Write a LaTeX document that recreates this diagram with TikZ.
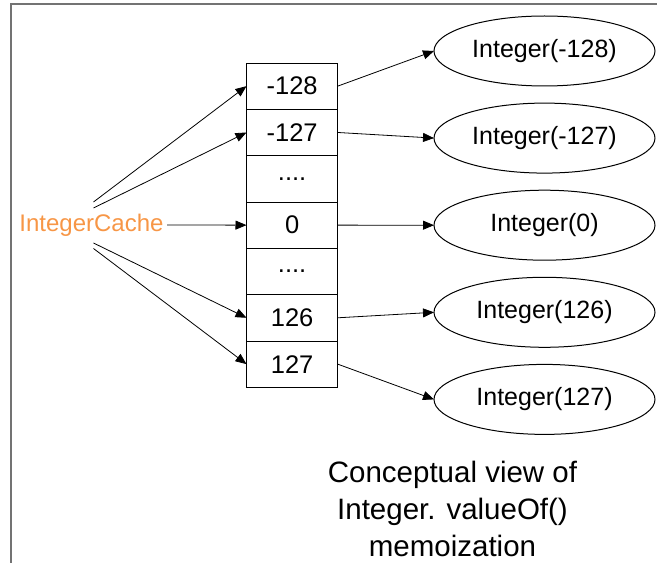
\documentclass[tikz,border=0pt]{standalone}
\usepackage{fontspec}
\setmainfont{Liberation Sans}
\usetikzlibrary{arrows.meta, shapes.geometric, calc}
\definecolor{cacheorange}{RGB}{247,150,70}
\tikzset{
    my-cell/.style={
        draw, rectangle, minimum width=91.2pt, minimum height=46.33pt, inner sep=0pt, outer sep=0pt, line width=0.8pt, font=\fontsize{25.5}{30}\selectfont
    },
    my-object/.style={
        draw, ellipse, minimum width=221pt, minimum height=70pt, inner sep=0pt, outer sep=0pt, line width=1pt, font=\fontsize{25}{30}\selectfont
    },
    my-arrow/.style={
        -{Triangle[length=11pt, width=9pt]}, line width=0.8pt
    },
}

\begin{document}
\begin{tikzpicture}[x=1pt, y=1pt]

        % PAGE AND FRAME
        \useasboundingbox (0, 0) rectangle (657, 563);
        \draw[black!55, line width=1.5pt] (11, 0) -- (11, 559) -- (657, 559);

        % CACHE
        \node[text=cacheorange, font=\fontsize{24}{28}\selectfont] (IC) at (91.5, 338) {IntegerCache};
        \coordinate[] (ICUP1)   at ($(IC) + (2, 23)$)    {};
        \coordinate[] (ICUP2)   at ($(IC) + (2, 17)$)    {};
        \coordinate[] (ICDOWN1) at ($(IC) + (2, -18)$)   {};
        \coordinate[] (ICDOWN2) at ($(IC) + (2, -23.5)$) {};

        % ARRAY CELLS
        \node[my-cell] (CM128)  at ($(IC) + (200.6, 138.85)$) {-128};
        \node[my-cell] (CM127)  at ($(CM128) + (0, -46.33)$)  {-127};
        \node[my-cell] (CDOTS1) at ($(CM127) + (0, -46.33)$)  {....};
        \node[my-cell] (C0)     at ($(CDOTS1) + (0, -46.33)$) {0};
        \node[my-cell] (CDOTS2) at ($(C0) + (0, -46.33)$)     {....};
        \node[my-cell] (C126)   at ($(CDOTS2) + (0, -46.33)$) {126};
        \node[my-cell] (C127)   at ($(C126) + (0, -46.33)$)   {127};

        % INTEGER OBJECTS
        \node[my-object] (OM128) at ($(CM128) + (252.4, 35.15)$) {Integer(-128)};
        \node[my-object] (OM127) at ($(OM128) + (0, -87.1)$)     {Integer(-127)};
        \node[my-object] (O0)    at ($(OM127) + (0, -87.1)$)     {Integer(0)};
        \node[my-object] (O126)  at ($(O0) + (0, -87.1)$)        {Integer(126)};
        \node[my-object] (O127)  at ($(O126) + (0, -87.1)$)      {Integer(127)};

        % CACHE TO CELLS
        \draw[my-arrow] (ICUP1)   -- (CM128.west);
        \draw[my-arrow] (ICUP2)   -- (CM127.west);
        \draw[my-arrow] (IC.east) -- (C0.west);
        \draw[my-arrow] (ICDOWN1) -- (C126.west);
        \draw[my-arrow] (ICDOWN2) -- (C127.west);

        % CELLS TO OBJECTS
        \draw[my-arrow] (CM128.east) -- (OM128.west);
        \draw[my-arrow] (CM127.east) -- (OM127.west);
        \draw[my-arrow] (C0.east)    -- (O0.west);
        \draw[my-arrow] (C126.east)  -- (O126.west);
        \draw[my-arrow] (C127.east)  -- (O127.west);

        % CAPTION
        \node[align=center, font=\fontsize{29.5}{37}\selectfont] (CAPTION) at ($(O127) + (-92, -109.4)$) {Conceptual view of\\Integer. valueOf()\\memoization};

    \end{tikzpicture}
\end{document}
